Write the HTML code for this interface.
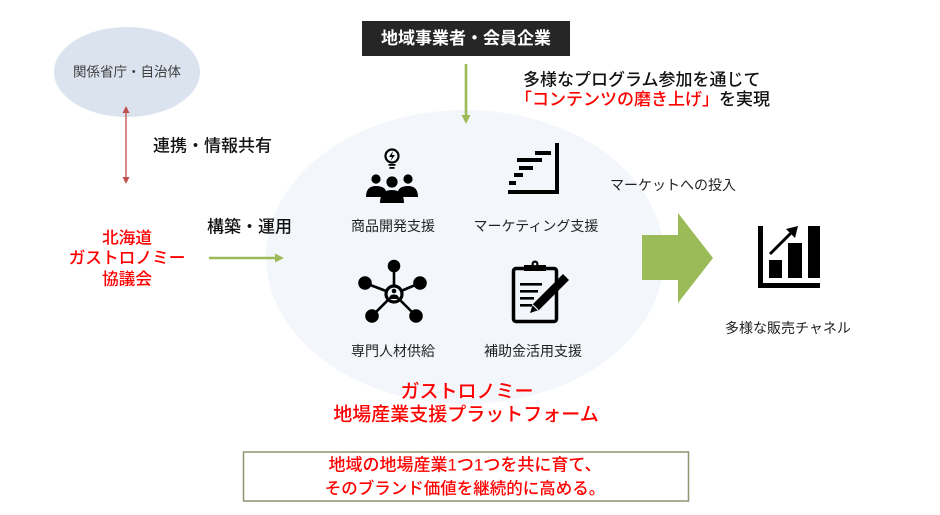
<!DOCTYPE html>
<html><head><meta charset="utf-8"><style>
html,body{margin:0;padding:0;background:#fff;}
svg{display:block;}
text{font-family:"Liberation Sans","Noto Sans CJK JP",sans-serif;}
</style></head><body>
<svg width="940" height="515" viewBox="0 0 940 515" xmlns="http://www.w3.org/2000/svg">
<!-- big platform ellipse -->
<ellipse cx="465" cy="257" rx="199" ry="147" fill="#f3f6fb"/>
<!-- small ellipse -->
<ellipse cx="127" cy="72" rx="73" ry="45" fill="#dbe3ef"/>
<text x="127" y="72" font-size="13.5" fill="#404040" text-anchor="middle" dominant-baseline="central">関係省庁・自治体</text>

<!-- red double arrow -->
<line x1="126" y1="112" x2="126" y2="178" stroke="#c0504d" stroke-width="1.3"/>
<polygon points="126,106 122.5,113 129.5,113" fill="#c0504d"/>
<polygon points="126,184 122.5,177 129.5,177" fill="#c0504d"/>
<text x="153" y="146" font-size="17" font-weight="500" fill="#111" dominant-baseline="central">連携・情報共有</text>

<!-- Hokkaido council -->
<text x="127" y="238" font-size="16.7" font-weight="500" fill="#ff0000" text-anchor="middle" dominant-baseline="central">北海道</text>
<text x="127" y="258" font-size="16.7" font-weight="500" fill="#ff0000" text-anchor="middle" dominant-baseline="central">ガストロノミー</text>
<text x="127" y="279" font-size="16.7" font-weight="500" fill="#ff0000" text-anchor="middle" dominant-baseline="central">協議会</text>
<text x="207" y="227" font-size="17" font-weight="500" fill="#111" dominant-baseline="central">構築・運用</text>
<line x1="209" y1="258" x2="276" y2="258" stroke="#9bbb59" stroke-width="2.6"/>
<polygon points="284,258 275,253.5 275,262.5" fill="#9bbb59"/>

<!-- black box -->
<rect x="362" y="21" width="208" height="35" fill="#262626"/>
<text x="466" y="38.5" font-size="17" font-weight="bold" fill="#fff" text-anchor="middle" dominant-baseline="central">地域事業者・会員企業</text>
<line x1="466" y1="64" x2="466" y2="116" stroke="#9bbb59" stroke-width="2.6"/>
<polygon points="466,124 461.5,115 470.5,115" fill="#9bbb59"/>
<text x="523" y="80" font-size="17" font-weight="500" fill="#111" dominant-baseline="central">多様なプログラム参加を通じて</text>
<text x="515" y="99" font-size="17" font-weight="500" dominant-baseline="central"><tspan fill="#ff0000">「コンテンツの磨き上げ」</tspan><tspan fill="#111">を実現</tspan></text>

<!-- people + bulb icon -->
<g fill="#000">
  <circle cx="392" cy="156" r="6.5" fill="none" stroke="#000" stroke-width="2.2"/>
  <polygon points="393,151 389,157 392,157 390.5,161 395,155 392,155" />
  <rect x="388.5" y="164" width="7" height="1.8"/>
  <rect x="389.5" y="167" width="5" height="1.8"/>
  <circle cx="376" cy="179" r="4.6"/>
  <circle cx="408" cy="179" r="4.6"/>
  <circle cx="392" cy="182" r="5.6"/>
  <path d="M366,197 Q366,186 376,186 Q384,186 386,191 L382,197 Z"/>
  <path d="M418,197 Q418,186 408,186 Q400,186 398,191 L402,197 Z"/>
  <path d="M380,203 Q380,190 392,190 Q404,190 404,203 Z"/>
</g>
<text x="393" y="226" font-size="14" fill="#222" text-anchor="middle" dominant-baseline="central">商品開発支援</text>

<!-- stairs icon -->
<g fill="#000">
  <rect x="555" y="143" width="4" height="51"/>
  <rect x="508" y="190" width="51" height="4"/>
  <rect x="535" y="151" width="16" height="4"/>
  <rect x="517" y="158" width="25" height="4"/>
  <rect x="519" y="166" width="14" height="4"/>
  <rect x="514" y="173" width="9" height="4"/>
  <rect x="509" y="181" width="7" height="4"/>
</g>
<text x="536" y="226" font-size="14" fill="#222" text-anchor="middle" dominant-baseline="central">マーケティング支援</text>

<!-- network icon -->
<g fill="#000" stroke="#000" stroke-width="2.6">
  <line x1="394" y1="294" x2="394" y2="266"/>
  <line x1="394" y1="294" x2="365" y2="283"/>
  <line x1="394" y1="294" x2="420" y2="283"/>
  <line x1="394" y1="294" x2="372" y2="316"/>
  <line x1="394" y1="294" x2="416" y2="316"/>
  <circle cx="394" cy="266" r="5"/>
  <circle cx="365" cy="283" r="5.5"/>
  <circle cx="420" cy="283" r="5.5"/>
  <circle cx="372" cy="316" r="5.5"/>
  <circle cx="416" cy="316" r="5.5"/>
  <circle cx="394" cy="294" r="8" fill="#f3f6fb" stroke-width="3.2"/>
</g>
<circle cx="394" cy="291" r="2.3" fill="#000"/>
<path d="M389,299 Q389,294.5 394,294.5 Q399,294.5 399,299 Z" fill="#000"/>
<text x="393" y="351" font-size="14" fill="#222" text-anchor="middle" dominant-baseline="central">専門人材供給</text>

<!-- clipboard icon -->
<rect x="513.5" y="268.5" width="43" height="53" rx="2.5" fill="none" stroke="#000" stroke-width="3.5"/>
<rect x="524" y="265" width="22" height="6" fill="#000"/>
<circle cx="535" cy="264" r="3.5" fill="#000"/>
<circle cx="535" cy="264" r="1.3" fill="#f3f6fb"/>
<g fill="#000">
  <rect x="520" y="283" width="22" height="2.6"/>
  <rect x="520" y="290" width="18" height="2.6"/>
  <rect x="520" y="297" width="14" height="2.6"/>
  <rect x="520" y="304" width="12" height="2.6"/>
</g>
<path d="M530,313 L533,304 L563,274 L569,280 L539,310 Z" fill="#000"/>
<path d="M533,305 L538,310" stroke="#f3f6fb" stroke-width="1.2"/>
<text x="533" y="351" font-size="14" fill="#222" text-anchor="middle" dominant-baseline="central">補助金活用支援</text>

<!-- platform title -->
<text x="467" y="392" font-size="19" font-weight="500" fill="#ff0000" text-anchor="middle" dominant-baseline="central">ガストロノミー</text>
<text x="466" y="415" font-size="19" font-weight="500" fill="#ff0000" text-anchor="middle" dominant-baseline="central">地場産業支援プラットフォーム</text>

<!-- big green arrow -->
<polygon points="642,235 678,235 678,213 713,258 678,303 678,280 642,280" fill="#9bbb59"/>
<text x="610" y="185" font-size="14" fill="#222" dominant-baseline="central">マーケットへの投入</text>

<!-- chart icon -->
<g fill="#000">
  <rect x="758" y="226" width="5" height="62"/>
  <rect x="758" y="283" width="62" height="5"/>
  <rect x="769" y="260" width="13" height="18"/>
  <rect x="788" y="243" width="14" height="35"/>
  <rect x="808" y="226" width="12" height="52"/>
  <line x1="770" y1="254" x2="793" y2="231" stroke="#000" stroke-width="3"/>
  <polygon points="798,226 786,229 795,238"/>
</g>
<text x="725" y="328" font-size="14" fill="#222" dominant-baseline="central">多様な販売チャネル</text>

<!-- bottom box -->
<rect x="243.5" y="452" width="445" height="49" fill="#fff" stroke="#8d9470" stroke-width="1.5"/>
<text x="465" y="465" font-size="17" font-weight="500" fill="#ff0000" text-anchor="middle" dominant-baseline="central">地域の地場産業1つ1つを共に育て、</text>
<text x="465" y="489" font-size="16.5" font-weight="500" fill="#ff0000" text-anchor="middle" dominant-baseline="central">そのブランド価値を継続的に高める。</text>
</svg>
</body></html>
